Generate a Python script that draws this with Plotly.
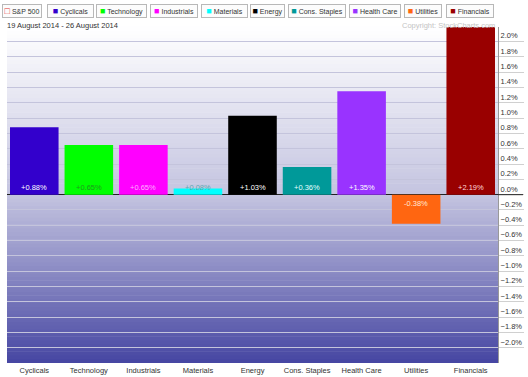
import plotly.graph_objects as go

categories = ["Cyclicals", "Technology", "Industrials", "Materials", "Energy",
              "Cons. Staples", "Health Care", "Utilities", "Financials"]
values = [0.88, 0.65, 0.65, 0.08, 1.03, 0.36, 1.35, -0.38, 2.19]
bar_colors = ["#3300cc", "#00ff00", "#ff00ff", "#00ffff", "#000000",
              "#009999", "#9933ff", "#ff6611", "#990000"]
label_colors = ["#ffffff", "#1f9a1f", "#ffb0ff", "#5aaab0", "#ffffff",
                "#e0ffff", "#ffffff", "#ffe8d8", "#ffd8d8"]
legend_names = ["S&P 500"] + categories
legend_colors = ["#dd3333"] + bar_colors
date_text = "19 August 2014 - 26 August 2014"
copyright_text = "Copyright: StockCharts.com"

W, H = 528, 377
L, R, T, B = 7, 30, 27, 14
FONT = "Liberation Sans, Arial, sans-serif"


def px_x(px):
    return (px - L) / (W - L - R)


def px_y(py):
    return (H - B - py) / (H - T - B)


fig = go.Figure()
fig.add_trace(go.Bar(
    x=categories, y=values,
    marker=dict(color=bar_colors, line=dict(width=0)),
    hoverinfo="skip",
))

# gradient background
shapes = []
N = 90
stops = [(0.0, (70, 70, 162)), (0.5, (196, 196, 224)), (1.0, (255, 255, 255))]


def col_at(f):
    for (a, ca), (b, cb) in zip(stops[:-1], stops[1:]):
        if a <= f <= b:
            t = (f - a) / (b - a)
            return tuple(int(round(ca[i] + (cb[i] - ca[i]) * t)) for i in range(3))
    return stops[-1][1]


for i in range(N):
    y0 = i / N
    y1 = (i + 1) / N
    c = col_at((y0 + y1) / 2)
    shapes.append(dict(type="rect", xref="paper", yref="paper", x0=0, x1=1,
                       y0=y0, y1=y1 + 0.002, layer="below", line=dict(width=0),
                       fillcolor="rgb(%d,%d,%d)" % c))
# zero line extension through tick area
shapes.append(dict(type="line", xref="paper", yref="y", x0=1, x1=px_x(523),
                   y0=0, y1=0, line=dict(color="#222222", width=1)))

annotations = []
# bar value labels at the base of each bar
for c, v, tc in zip(categories, values, label_colors):
    annotations.append(dict(
        x=c, y=0, xref="x", yref="y", text="%+.2f%%" % v, showarrow=False,
        yanchor="bottom" if v >= 0 else "top", yshift=1 if v >= 0 else -2,
        font=dict(family=FONT, size=7.5, color=tc)))
# legend boxes
boxes = [(2, 42), (47, 94), (96, 147), (150, 198), (201, 248), (250, 285),
         (288, 346), (349, 401), (404, 442), (446, 494)]
for i, (name, c) in enumerate(zip(legend_names, legend_colors)):
    x0, x1 = boxes[i]
    sq = "□" if i == 0 else "■"
    annotations.append(dict(
        xref="paper", yref="paper", x=px_x(x0), y=px_y(4), xanchor="left", yanchor="top",
        text="<span style='color:%s;font-size:9px'>%s</span> %s" % (c, sq, name),
        showarrow=False, align="center", width=x1 - x0 - 4, height=10,
        bgcolor="#fcfcfc", bordercolor="#b8b8b8", borderwidth=1, borderpad=1,
        font=dict(family=FONT, size=7, color="#333333")))
annotations.append(dict(
    xref="paper", yref="paper", x=px_x(5), y=px_y(19), xanchor="left", yanchor="top",
    text=date_text, showarrow=False, font=dict(family=FONT, size=7.5, color="#333333")))
annotations.append(dict(
    xref="paper", yref="paper", x=px_x(497), y=px_y(19), xanchor="right", yanchor="top",
    text=copyright_text, showarrow=False, font=dict(family=FONT, size=7.5, color="#c4c4c4")))

fig.update_layout(
    width=W, height=H,
    margin=dict(l=L, r=R, t=T, b=B, pad=0, autoexpand=False),
    paper_bgcolor="#ffffff", plot_bgcolor="#ffffff",
    showlegend=False, bargap=0.11,
    shapes=shapes, annotations=annotations,
    font=dict(family=FONT, size=7.5, color="#333333"),
)
fig.update_xaxes(
    showgrid=False, ticks="", showline=False, automargin=False,
    tickfont=dict(family=FONT, size=7.5, color="#333333"), ticklabelstandoff=1,
)
fig.update_yaxes(
    side="right", range=[-2.199, 2.19], dtick=0.2, tick0=0, automargin=False,
    tickformat=".1f", ticksuffix="%",
    showgrid=True, gridcolor="#c4c4dc", gridwidth=1,
    zeroline=True, zerolinecolor="#222222", zerolinewidth=1,
    showline=True, linecolor="#999999", linewidth=1,
    ticks="outside", ticklen=25, tickcolor="#d0d0d0", tickwidth=1,
    ticklabelposition="outside top",
    tickfont=dict(family=FONT, size=7.5, color="#333333"),
)

fig.write_html("out.html", config={"displayModeBar": False, "staticPlot": True},
               post_script="document.body.style.margin='0';document.body.style.padding='0';")
